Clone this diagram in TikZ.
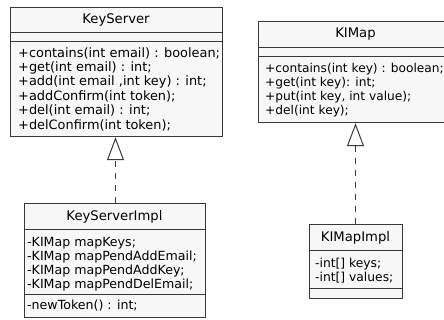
\documentclass[tikz,border=0pt]{standalone}
\usepackage{fontspec}
\setmainfont{DejaVu Sans}
\usetikzlibrary{arrows.meta}
\definecolor{umlline}{HTML}{383838}
\definecolor{umlfill}{HTML}{F7F7F7}
\newcommand{\titletext}{\fontsize{13.2}{15}\selectfont}
\newcommand{\membertext}[2]{\fontsize{#1}{#2}\selectfont}
\tikzset{
  classbox/.style={draw=umlline, fill=umlfill, line width=1.2pt, inner sep=0pt, anchor=north west},
  sep/.style={draw=umlline, line width=1pt},
  title/.style={font=\titletext, inner sep=0pt, text=black},
  members/.style={inner sep=0pt, align=left, anchor=west, text=black},
  realize/.style={draw=umlline, line width=1pt, dash pattern=on 6pt off 6pt,
    -{Triangle[open, length=23pt, width=17pt, line width=1pt]}}
}
\begin{document}
\begin{tikzpicture}[x=1pt, y=-1pt]
\useasboundingbox (0,0) rectangle (444,320);

% KeyServer interface
\node[classbox, minimum width=212pt, minimum height=129pt] (ks) at (10,7) {};
\draw[sep] (ks.west |- 0,33) -- (ks.east |- 0,33);
\draw[sep] (ks.west |- 0,42) -- (ks.east |- 0,42);
\node[title] (kst) at (116,20) {KeyServer};
\node[members, font=\membertext{12.9}{14.4}] (ksm) at (18,89) {+contains(int email) : boolean;\\+get(int email) : int;\\+add(int email ,int key) : int;\\+addConfirm(int token);\\+del(int email) : int;\\+delConfirm(int token);};

% KIMap interface
\node[classbox, minimum width=186pt, minimum height=101pt] (km) at (258,21) {};
\draw[sep] (km.west |- 0,48) -- (km.east |- 0,48);
\draw[sep] (km.west |- 0,57) -- (km.east |- 0,57);
\node[title] (kmt) at (355.5,34.5) {KIMap};
\node[members, font=\membertext{12.2}{14}] (kmm) at (265,90.5) {+contains(int key) : boolean;\\+get(int key): int;\\+put(int key, int value);\\+del(int key);};

% KeyServerImpl class
\node[classbox, minimum width=181pt, minimum height=114pt] (ksi) at (24,203) {};
\draw[sep] (ksi.west |- 0,230) -- (ksi.east |- 0,230);
\draw[sep] (ksi.west |- 0,294) -- (ksi.east |- 0,294);
\node[title] (ksit) at (114.5,216.5) {KeyServerImpl};
\node[members, font=\membertext{12.6}{14}] (ksia) at (27,264) {-KIMap mapKeys;\\-KIMap mapPendAddEmail;\\-KIMap mapPendAddKey;\\-KIMap mapPendDelEmail;};
\node[members, font=\membertext{12.6}{14}] (ksio) at (27,306) {-newToken() : int;};

% KIMapImpl class
\node[classbox, minimum width=93pt, minimum height=74pt] (kmi) at (309,224) {};
\draw[sep] (kmi.west |- 0,251) -- (kmi.east |- 0,251);
\draw[sep] (kmi.west |- 0,288) -- (kmi.east |- 0,288);
\node[title] (kmit) at (355.5,238) {KIMapImpl};
\node[members, font=\membertext{12.3}{14}] (kmia) at (315,271) {-int[] keys;\\-int[] values;};

% realization arrows
\draw[realize] (ksi.north -| 115.5,0) -- (ks.south -| 115.5,0);
\draw[realize] (kmi.north -| 355.5,0) -- (km.south -| 355.5,0);
\end{tikzpicture}
\end{document}
